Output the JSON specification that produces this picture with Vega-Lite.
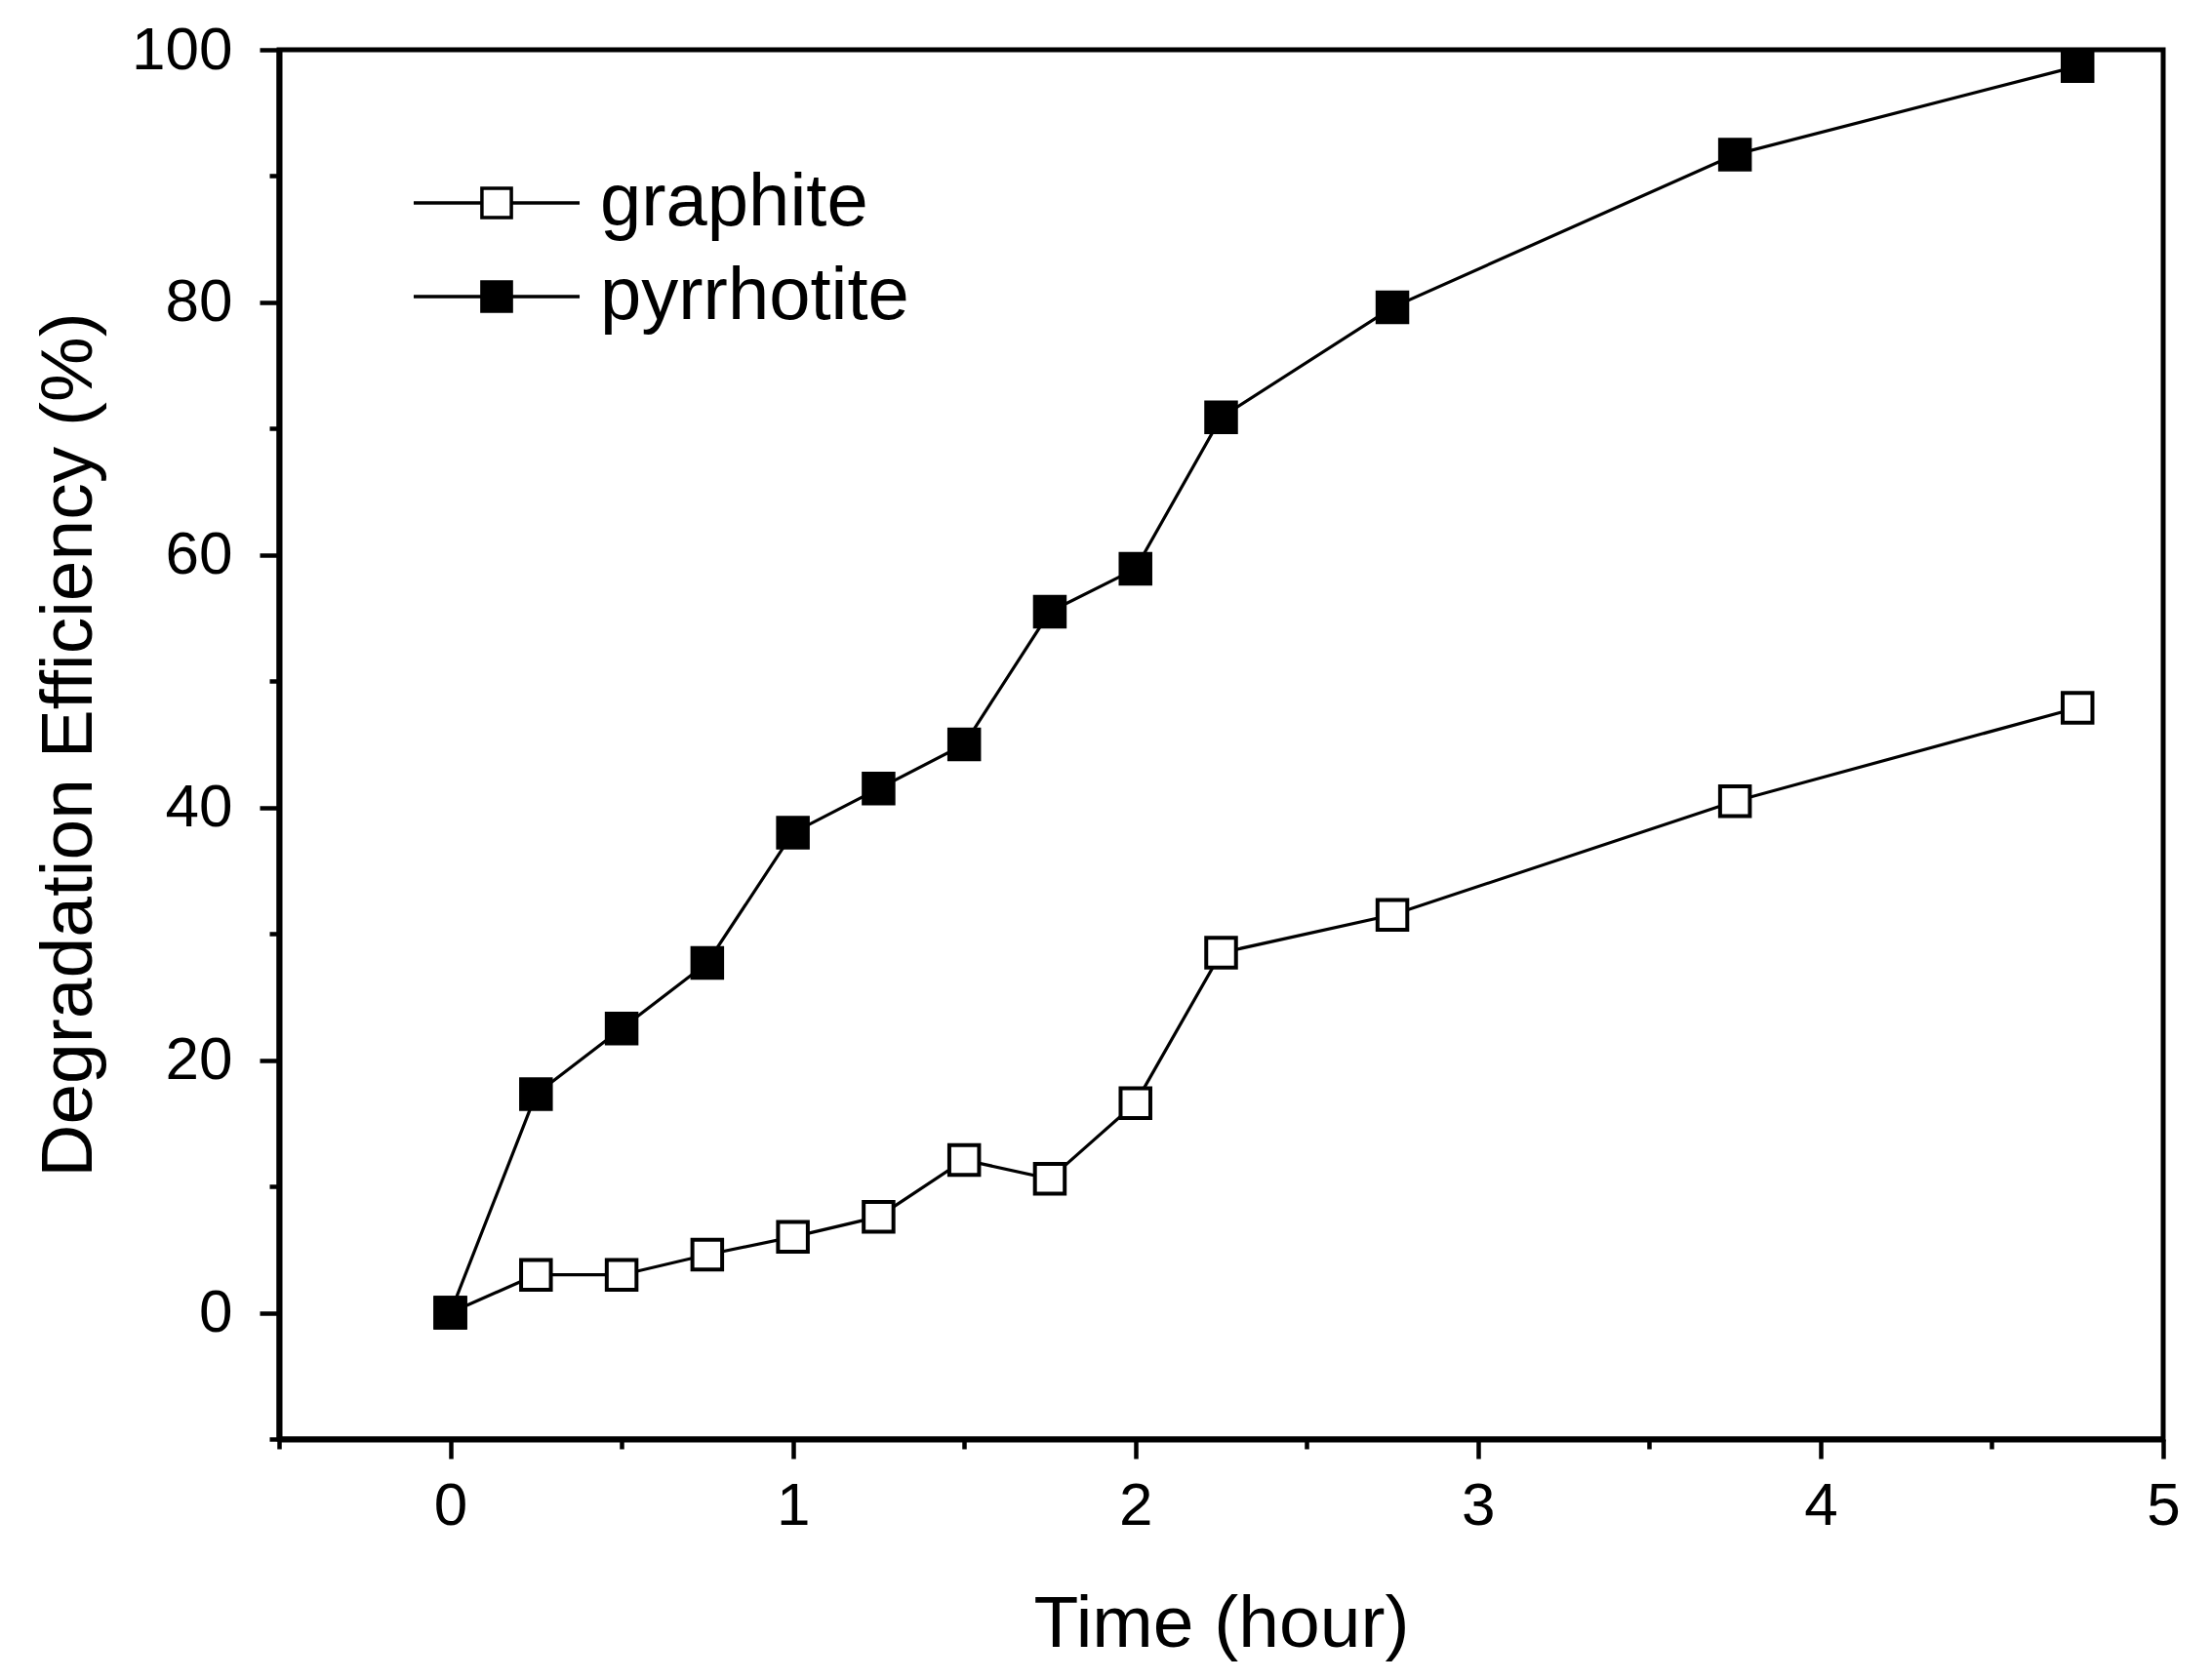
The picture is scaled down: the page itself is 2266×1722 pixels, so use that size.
{
  "$schema": "https://vega.github.io/schema/vega-lite/v6.json",
  "width": 1931,
  "height": 1424,
  "autosize": "none",
  "padding": {"left": 286, "top": 51, "right": 49, "bottom": 247},
  "background": "white",
  "config": {
    "font": "Liberation Sans",
    "view": {"stroke": "black", "strokeWidth": 5},
    "axis": {
      "grid": false,
      "domainColor": "black",
      "domainWidth": 6,
      "tickColor": "black",
      "tickWidth": 4.5,
      "labelColor": "black",
      "titleColor": "black",
      "labelFont": "Liberation Sans",
      "titleFont": "Liberation Sans",
      "labelFontSize": 62,
      "titleFontSize": 75,
      "titleFontWeight": "normal"
    }
  },
  "data": {
    "values": [
      {"time": 0, "eff": 0, "series": "graphite"},
      {"time": 0.25, "eff": 3.0, "series": "graphite"},
      {"time": 0.5, "eff": 3.0, "series": "graphite"},
      {"time": 0.75, "eff": 4.6, "series": "graphite"},
      {"time": 1.0, "eff": 6.0, "series": "graphite"},
      {"time": 1.25, "eff": 7.6, "series": "graphite"},
      {"time": 1.5, "eff": 12.1, "series": "graphite"},
      {"time": 1.75, "eff": 10.6, "series": "graphite"},
      {"time": 2.0, "eff": 16.6, "series": "graphite"},
      {"time": 2.25, "eff": 28.5, "series": "graphite"},
      {"time": 2.75, "eff": 31.5, "series": "graphite"},
      {"time": 3.75, "eff": 40.5, "series": "graphite"},
      {"time": 4.75, "eff": 47.9, "series": "graphite"},
      {"time": 0, "eff": 0, "series": "pyrrhotite"},
      {"time": 0.25, "eff": 17.3, "series": "pyrrhotite"},
      {"time": 0.5, "eff": 22.5, "series": "pyrrhotite"},
      {"time": 0.75, "eff": 27.7, "series": "pyrrhotite"},
      {"time": 1.0, "eff": 38.0, "series": "pyrrhotite"},
      {"time": 1.25, "eff": 41.5, "series": "pyrrhotite"},
      {"time": 1.5, "eff": 45.0, "series": "pyrrhotite"},
      {"time": 1.75, "eff": 55.5, "series": "pyrrhotite"},
      {"time": 2.0, "eff": 58.9, "series": "pyrrhotite"},
      {"time": 2.25, "eff": 70.9, "series": "pyrrhotite"},
      {"time": 2.75, "eff": 79.6, "series": "pyrrhotite"},
      {"time": 3.75, "eff": 91.7, "series": "pyrrhotite"},
      {"time": 4.75, "eff": 98.7, "series": "pyrrhotite"}
    ]
  },
  "layer": [
    {
      "mark": {"type": "line", "color": "black", "strokeWidth": 3.2},
      "encoding": {
        "x": {"field": "time", "type": "quantitative",
              "scale": {"domain": [-0.5, 5], "nice": false, "zero": false},
              "axis": {"values": [-0.5, 0, 0.5, 1, 1.5, 2, 2.5, 3, 3.5, 4, 4.5, 5],
                       "tickSize": {"condition": {"test": "datum.value % 1 !== 0", "value": 10}, "value": 20},
                       "labelExpr": "datum.value % 1 === 0 ? format(datum.value, 'd') : ''",
                       "labelPadding": 18, "labelFlush": false, "labelOverlap": false,
                       "title": "Time (hour)", "titlePadding": 54}},
        "y": {"field": "eff", "type": "quantitative",
              "scale": {"domain": [-10, 100], "nice": false, "zero": false},
              "axis": {"values": [-10, 0, 10, 20, 30, 40, 50, 60, 70, 80, 90, 100],
                       "tickSize": {"condition": {"test": "datum.value % 20 !== 0", "value": 10}, "value": 20},
                       "labelExpr": "datum.value % 20 === 0 ? format(datum.value, 'd') : ''",
                       "labelPadding": 28, "labelFlush": false, "labelOverlap": false,
                       "title": "Degradation Efficiency (%)", "titlePadding": 25}},
        "detail": {"field": "series"}
      }
    },
    {
      "mark": {"type": "point", "shape": "square", "size": 930, "filled": true, "stroke": "black", "strokeWidth": 4, "opacity": 1},
      "encoding": {
        "x": {"field": "time", "type": "quantitative"},
        "y": {"field": "eff", "type": "quantitative"},
        "fill": {"field": "series", "type": "nominal",
                 "scale": {"domain": ["graphite", "pyrrhotite"], "range": ["white", "black"]},
                 "legend": {
                   "title": null,
                   "orient": "none",
                   "legendX": 185,
                   "legendY": 119,
                   "symbolType": "M-3.27,0H-0.58M0.58,0H3.27M-0.58,-0.58H0.58V0.58H-0.58Z",
                   "symbolSize": 2704,
                   "symbolStrokeColor": "black",
                   "symbolStrokeWidth": 3.5,
                   "symbolOpacity": 1,
                   "labelFontSize": 76,
                   "labelFont": "Liberation Sans",
                   "labelColor": "black",
                   "labelLimit": 0,
                   "labelOffset": 68,
                   "rowPadding": 20
                 }}
      }
    }
  ]
}
